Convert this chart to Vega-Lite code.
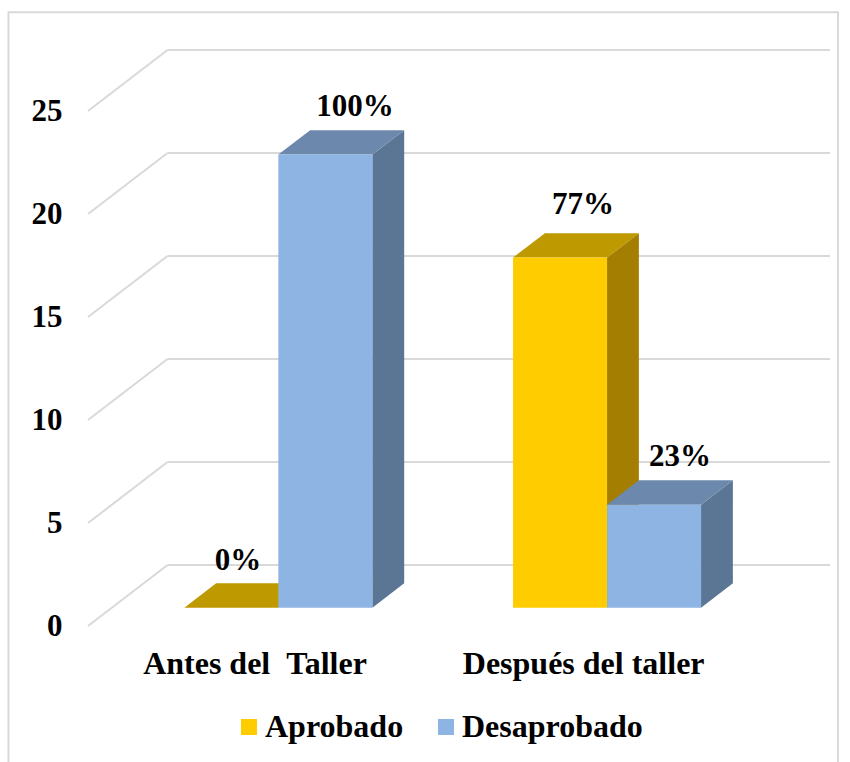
{
  "$schema": "https://vega.github.io/schema/vega-lite/v6.json",
  "width": 742,
  "height": 578,
  "autosize": {"type": "none"},
  "padding": {"left": 88, "top": 48, "right": 20, "bottom": 136},
  "background": "#ffffff",
  "config": {"view": {"stroke": null}, "text": {"font": "Liberation Serif"}},
  "data": {"values": [
    {"taller": "Antes del  Taller", "serie": "Aprobado", "valor": 0, "etiqueta": "0%"},
    {"taller": "Antes del  Taller", "serie": "Desaprobado", "valor": 22, "etiqueta": "100%"},
    {"taller": "Después del taller", "serie": "Aprobado", "valor": 17, "etiqueta": "77%"},
    {"taller": "Después del taller", "serie": "Desaprobado", "valor": 5, "etiqueta": "23%"}
  ]},
  "transform": [
    {"calculate": "datum.taller == 'Antes del  Taller' ? 0 : 1", "as": "grupo"},
    {"calculate": "datum.grupo + (datum.serie == 'Aprobado' ? -0.286 : 0) + 0.0726", "as": "xIzq"},
    {"calculate": "datum.xIzq + 0.286", "as": "xDer"},
    {"calculate": "datum.valor + 0.888", "as": "yFrente"}
  ],
  "layer": [
    {
      "data": {"values": [{"v": 0}, {"v": 5}, {"v": 10}, {"v": 15}, {"v": 20}, {"v": 25}]},
      "transform": [
        {"calculate": "-0.5065", "as": "xA"},
        {"calculate": "-0.5065 + 0.2419", "as": "xB"},
        {"calculate": "datum.v + 2.96", "as": "vB"}
      ],
      "mark": {"type": "rule", "stroke": "#D9D9D9", "strokeWidth": 2},
      "encoding": {
        "x": {"field": "xA", "type": "quantitative", "scale": {"domain": [-0.5065, 1.7509]},
          "axis": {"title": null, "values": [0, 1], "domain": false, "ticks": false, "grid": false,
            "labelExpr": "datum.value == 0 ? 'Antes del\u00a0\u00a0Taller' : 'Después del taller'",
            "labelFont": "Liberation Serif", "labelFontWeight": "bold", "labelFontSize": 32, "labelColor": "#000000",
            "labelPadding": 22, "labelOverlap": false, "labelFlush": false, "labelLimit": 400}},
        "x2": {"field": "xB"},
        "y": {"field": "v", "type": "quantitative", "scale": {"domain": [0, 28.06]},
          "axis": {"title": null, "values": [0, 5, 10, 15, 20, 25], "domain": false, "ticks": false, "grid": false,
            "labelFont": "Liberation Serif", "labelFontWeight": "bold", "labelFontSize": 31, "labelColor": "#000000",
            "labelPadding": 26, "labelOverlap": false, "labelFlush": false}},
        "y2": {"field": "vB"}
      }
    },
    {
      "data": {"values": [{"marco": 1}]},
      "mark": {"type": "rect", "fill": null, "stroke": "#D9D9D9", "strokeWidth": 2},
      "encoding": {
        "x": {"datum": -0.7484, "type": "quantitative", "scale": {"domain": [-0.5065, 1.7509]}},
        "x2": {"datum": 1.7752},
        "y": {"datum": 29.8, "type": "quantitative", "scale": {"domain": [0, 28.06]}},
        "y2": {"datum": -8}
      }
    },
    {
      "data": {"values": [{"v": 0}, {"v": 5}, {"v": 10}, {"v": 15}, {"v": 20}, {"v": 25}]},
      "transform": [
        {"calculate": "-0.5065 + 0.2419", "as": "xB"},
        {"calculate": "1.7509", "as": "xC"},
        {"calculate": "datum.v + 2.96", "as": "vB"}
      ],
      "mark": {"type": "rule", "stroke": "#D9D9D9", "strokeWidth": 2},
      "encoding": {
        "x": {"field": "xB", "type": "quantitative", "scale": {"domain": [-0.5065, 1.7509]}},
        "x2": {"field": "xC"},
        "y": {"field": "vB", "type": "quantitative", "scale": {"domain": [0, 28.06]}}
      }
    },
    {
      "transform": [
        {"calculate": "[0, 1]", "as": "paso"},
        {"flatten": ["paso"]},
        {"calculate": "datum.xDer + datum.paso * 0.0968", "as": "xLado"},
        {"calculate": "datum.yFrente + datum.paso * 1.184", "as": "yLado"},
        {"calculate": "0.888 + datum.paso * 1.184", "as": "yBase"}
      ],
      "mark": {"type": "area", "orient": "vertical"},
      "encoding": {
        "x": {"field": "xLado", "type": "quantitative", "scale": {"domain": [-0.5065, 1.7509]}},
        "y": {"field": "yLado", "type": "quantitative", "stack": null, "scale": {"domain": [0, 28.06]}},
        "y2": {"field": "yBase"},
        "detail": {"field": "xDer"},
        "color": {"condition": {"test": "datum.serie == 'Aprobado'", "value": "#A37E00"}, "value": "#5B7595"}
      }
    },
    {
      "transform": [
        {"calculate": "[0, 1]", "as": "paso"},
        {"flatten": ["paso"]},
        {"calculate": "datum.xIzq + datum.paso * 0.0968", "as": "xA"},
        {"calculate": "datum.xDer + datum.paso * 0.0968", "as": "xB"},
        {"calculate": "datum.yFrente + datum.paso * 1.184", "as": "yTapa"}
      ],
      "mark": {"type": "area", "orient": "horizontal"},
      "encoding": {
        "y": {"field": "yTapa", "type": "quantitative", "scale": {"domain": [0, 28.06]}},
        "x": {"field": "xA", "type": "quantitative", "stack": null, "scale": {"domain": [-0.5065, 1.7509]}},
        "x2": {"field": "xB"},
        "detail": {"field": "xDer"},
        "color": {"condition": {"test": "datum.serie == 'Aprobado'", "value": "#BF9900"}, "value": "#6C88AD"}
      }
    },
    {
      "transform": [{"calculate": "0.888", "as": "yBase"}],
      "mark": {"type": "rect"},
      "encoding": {
        "x": {"field": "xIzq", "type": "quantitative", "scale": {"domain": [-0.5065, 1.7509]}},
        "x2": {"field": "xDer"},
        "y": {"field": "yFrente", "type": "quantitative", "scale": {"domain": [0, 28.06]}},
        "y2": {"field": "yBase"},
        "color": {
          "field": "serie", "type": "nominal",
          "scale": {"domain": ["Aprobado", "Desaprobado"], "range": ["#FFCC00", "#8DB4E2"]},
          "legend": {
            "title": null, "orient": "none", "legendX": 145, "legendY": 663, "direction": "horizontal", "columns": 2,
            "symbolType": "square", "symbolSize": 256, "symbolStrokeWidth": 0, "columnPadding": 26,
            "labelFont": "Liberation Serif", "labelFontWeight": "bold", "labelFontSize": 32, "labelColor": "#000000",
            "labelOffset": 0, "labelLimit": 300
          }
        }
      }
    },
    {
      "transform": [
        {"calculate": "(datum.xIzq + datum.xDer) / 2 + ({'0%': 0.0204, '100%': 0.0904, '77%': 0.07, '23%': 0.079})[datum.etiqueta]", "as": "xTexto"},
        {"calculate": "datum.valor + 2.072 + ({'0%': 1.1, '100%': 1.12, '77%': 1.36, '23%': 1.12})[datum.etiqueta]", "as": "yTexto"}
      ],
      "mark": {"type": "text", "font": "Liberation Serif", "fontWeight": "bold", "fontSize": 31, "color": "#000000", "align": "center", "baseline": "middle"},
      "encoding": {
        "x": {"field": "xTexto", "type": "quantitative", "scale": {"domain": [-0.5065, 1.7509]}},
        "y": {"field": "yTexto", "type": "quantitative", "scale": {"domain": [0, 28.06]}},
        "text": {"field": "etiqueta"}
      }
    }
  ]
}
